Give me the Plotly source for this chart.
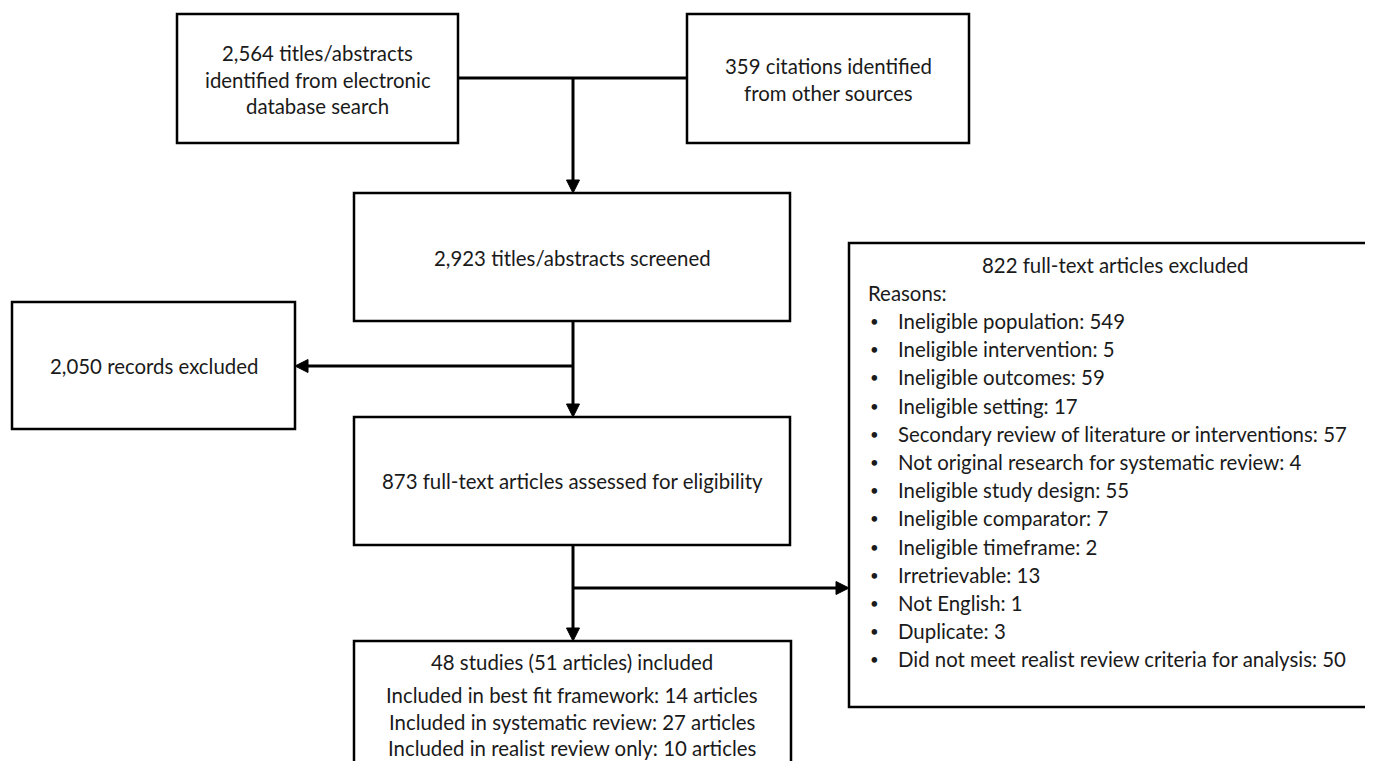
import plotly.graph_objects as go

# ---------------- data (texts and counts) ----------------
db_records = 2564
other_records = 359
screened = 2923
excluded_screen = 2050
fulltext = 873
fulltext_excluded = 822
reason_labels = [
    "Ineligible population", "Ineligible intervention", "Ineligible outcomes",
    "Ineligible setting", "Secondary review of literature or interventions",
    "Not original research for systematic review", "Ineligible study design",
    "Ineligible comparator", "Ineligible timeframe", "Irretrievable",
    "Not English", "Duplicate", "Did not meet realist review criteria for analysis",
]
reason_counts = [549, 5, 59, 17, 57, 4, 55, 7, 2, 13, 1, 3, 50]
studies_included = 48
articles_included = 51
included_labels = ["Included in best fit framework", "Included in systematic review",
                   "Included in realist review only"]
included_counts = [14, 27, 10]

# ---------------- layout geometry ----------------
W, H = 1373, 761
PAD = 8  # page body margin; coordinates below are page pixels
FONT = "Lato"
FS = 20.4
TXT = "#1a1a1a"

fig = go.Figure()
shapes = []
ann = []

def box(x0, y0, x1, y1):
    shapes.append(dict(type="rect", x0=x0, y0=y0, x1=x1, y1=y1, xref="x", yref="y",
                       line=dict(color="black", width=2.5), fillcolor="white", layer="below"))

def line(x0, y0, x1, y1):
    shapes.append(dict(type="line", x0=x0, y0=y0, x1=x1, y1=y1, xref="x", yref="y",
                       line=dict(color="black", width=3)))

def head(x, y, d):
    L, h = 13, 6.5
    if d == "down":
        p = f"M{x-h},{y-L} L{x+h},{y-L} L{x},{y} Z"
    elif d == "left":
        p = f"M{x+L},{y-h} L{x+L},{y+h} L{x},{y} Z"
    else:
        p = f"M{x-L},{y-h} L{x-L},{y+h} L{x},{y} Z"
    shapes.append(dict(type="path", path=p, xref="x", yref="y",
                       fillcolor="black", line=dict(color="black", width=1)))

def text(x, y, s, anchor="center", size=FS):
    ann.append(dict(x=x, y=y, xref="x", yref="y", text=s, showarrow=False,
                    xanchor=anchor, yanchor="middle",
                    font=dict(family=FONT, size=size, color=TXT)))

# boxes
box(177, 14, 458, 143)
box(687, 14, 969, 143)
box(354, 193, 790, 321)
box(12, 302, 295, 429)
box(354, 417, 790, 545)
box(354, 641, 791, 790)
box(849, 243, 1385, 707)

# connectors
cx = 573
line(458, 78, 687, 78)
line(cx, 78, cx, 186)
head(cx, 193, "down")
line(cx, 321, cx, 410)
head(cx, 417, "down")
line(cx, 366, 302, 366)
head(295, 366, "left")
line(cx, 545, cx, 634)
head(cx, 641, "down")
line(cx, 588, 842, 588)
head(849, 588, "right")

# texts
c1 = (177 + 458) / 2
text(c1, 53, f"{db_records:,} titles/abstracts")
text(c1, 80, "identified from electronic")
text(c1, 106, "database search")
c2 = (687 + 969) / 2
text(c2, 66, f"{other_records:,} citations identified")
text(c2, 93, "from other sources")
cm = (354 + 790) / 2
text(cm, 258, f"{screened:,} titles/abstracts screened")
text((12 + 295) / 2, 366, f"{excluded_screen:,} records excluded")
text(cm, 481, f"{fulltext:,} full-text articles assessed for eligibility")
text(cm, 662, f"{studies_included} studies ({articles_included} articles) included")
for i, (lab, n) in enumerate(zip(included_labels, included_counts)):
    text(cm, 695 + i * 26.5, f"{lab}: {n} articles")

text(1115, 265, f"{fulltext_excluded:,} full-text articles excluded")
text(866, 293, "Reasons:", anchor="left")
for i, (lab, n) in enumerate(zip(reason_labels, reason_counts)):
    y = 321 + i * 28.2
    text(868, y, "•", anchor="left", size=15)
    text(896, y, f"{lab}: {n}", anchor="left")

fig.update_layout(
    width=W - PAD, height=H - PAD, margin=dict(l=0, r=0, t=0, b=0),
    paper_bgcolor="white", plot_bgcolor="white",
    xaxis=dict(range=[PAD, W], visible=False, fixedrange=True),
    yaxis=dict(range=[H, PAD], visible=False, fixedrange=True),
    shapes=shapes, annotations=ann, showlegend=False,
)
fig.write_html("out.html")
